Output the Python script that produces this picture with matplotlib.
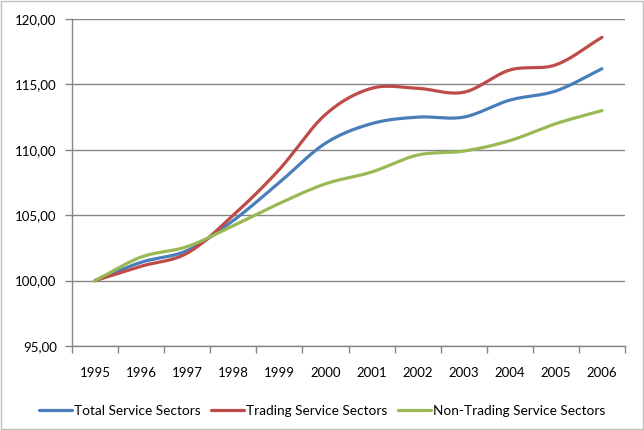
# Service sector index chart, 1995 = 100
import matplotlib
matplotlib.use('Agg')
import matplotlib.pyplot as plt
import matplotlib.patches as mpatches
import numpy as np

years = ['1995', '1996', '1997', '1998', '1999', '2000',
         '2001', '2002', '2003', '2004', '2005', '2006']
total_service = [100.0, 101.4, 102.3, 104.6, 107.5, 110.5,
                 112.0, 112.5, 112.5, 113.8, 114.5, 116.2]
trading_service = [100.0, 101.1, 102.1, 105.0, 108.5, 112.7,
                   114.7, 114.7, 114.4, 116.1, 116.5, 118.6]
non_trading_service = [100.0, 101.8, 102.6, 104.2, 105.9, 107.4,
                       108.3, 109.6, 109.9, 110.7, 112.0, 113.0]
yticks = [95, 100, 105, 110, 115, 120]


# Catmull-Rom smoothing between the points, like the spreadsheet's smoothed lines
def smooth(xs, ys, steps=30):
    xs = np.asarray(xs, dtype=float)
    ys = np.asarray(ys, dtype=float)
    px = np.concatenate([[2 * xs[0] - xs[1]], xs, [2 * xs[-1] - xs[-2]]])
    py = np.concatenate([[2 * ys[0] - ys[1]], ys, [2 * ys[-1] - ys[-2]]])
    out_x, out_y = [], []
    t = np.linspace(0, 1, steps, endpoint=False)
    for i in range(1, len(px) - 2):
        for p, out in ((px, out_x), (py, out_y)):
            p0, p1, p2, p3 = p[i - 1], p[i], p[i + 1], p[i + 2]
            out.extend(0.5 * (2 * p1 + (-p0 + p2) * t
                              + (2 * p0 - 5 * p1 + 4 * p2 - p3) * t ** 2
                              + (-p0 + 3 * p1 - 3 * p2 + p3) * t ** 3))
    out_x.append(xs[-1])
    out_y.append(ys[-1])
    return out_x, out_y


plt.rcParams['font.family'] = ['Lato', 'DejaVu Sans']
fig = plt.figure(figsize=(6.44, 4.30), dpi=100)
ax = fig.add_axes([0.1118, 0.1953, 0.8587, 0.7605])

series = [('Total Service Sectors', total_service, '#4A7EBB'),
          ('Trading Service Sectors', trading_service, '#BE4B48'),
          ('Non-Trading Service Sectors', non_trading_service, '#98B954')]
x = np.arange(len(years))
for label, values, color in series:
    sx, sy = smooth(x, values)
    ax.plot(sx, sy, color=color, linewidth=2.3, label=label,
            solid_capstyle='round', zorder=3)

ax.set_xlim(-0.5, len(years) - 0.5)
ax.set_ylim(95, 120)
ax.set_yticks(yticks)
ax.set_yticklabels([f'{v:.2f}'.replace('.', ',') for v in yticks])
ax.set_xticks(x)
ax.set_xticklabels(years)
ax.set_xticks(np.arange(-0.5, len(years)), minor=True)
ax.tick_params(axis='x', which='major', length=0, pad=15, labelsize=9.5)
ax.tick_params(axis='x', which='minor', length=5, color='#868686', width=1)
ax.tick_params(axis='y', length=5, color='#868686', width=1, labelsize=9.5, pad=6)
ax.yaxis.grid(True, color='#868686', linewidth=1)
ax.set_axisbelow(True)
for side in ('top', 'right'):
    ax.spines[side].set_visible(False)
for side in ('left', 'bottom'):
    ax.spines[side].set_color('#868686')
    ax.spines[side].set_linewidth(1)

fig.legend(loc='center', bbox_to_anchor=(0.5, 0.045), ncol=3, frameon=False,
           fontsize=9.8, handlelength=2.4, handletextpad=0.15, columnspacing=0.8)

# light border around the whole chart
fig.patches.append(mpatches.Rectangle((0.002, 0.003), 0.996, 0.994, transform=fig.transFigure,
                                      fill=False, edgecolor='#BFBFBF', linewidth=1))

fig.savefig('out.png', dpi=100)
